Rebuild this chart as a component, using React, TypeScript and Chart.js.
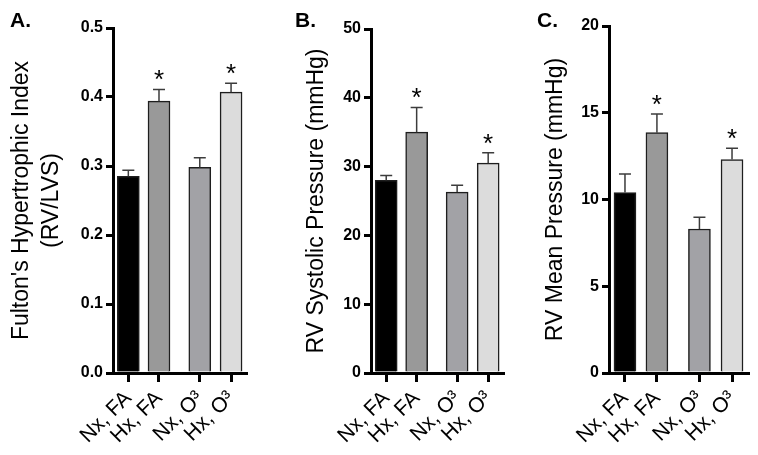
import React, { useEffect, useRef } from "react";
import { Chart, registerables } from "chart.js";

Chart.register(...registerables);

const FONT = "'Liberation Sans', Arial, Helvetica, sans-serif";
Chart.defaults.font.family = FONT;
Chart.defaults.color = "#000";

// ---- data ----
const categories = ["Nx, FA", "Hx, FA", "Nx, O³", "Hx, O³"];
const categoryPositions = [0, 1, 2.33, 3.35];
const barColors = ["#000000", "#999999", "#a2a2a6", "#dcdcdc"];
const significant = [false, true, false, true];

const fultonMeans = [0.285, 0.394, 0.298, 0.407];
const fultonErrors = [0.009, 0.017, 0.014, 0.013];
const fultonTicks = [0, 0.1, 0.2, 0.3, 0.4, 0.5];

const systolicMeans = [28.0, 35.0, 26.3, 30.5];
const systolicErrors = [0.7, 3.6, 1.0, 1.5];
const systolicTicks = [0, 10, 20, 30, 40, 50];

const meanPressureMeans = [10.4, 13.85, 8.3, 12.3];
const meanPressureErrors = [1.07, 1.08, 0.67, 0.66];
const meanPressureTicks = [0, 5, 10, 15, 20];

type Panel = {
  letter: string;
  title: string | string[];
  means: number[];
  errors: number[];
  ticks: number[];
  decimals: number;
  left: number;
  width: number;
  axisWidth: number;
  topPad: number;
  rightPad: number;
  titlePad: number;
  letterX: number;
};

const panels: Panel[] = [
  {
    letter: "A.",
    title: ["Fulton's Hypertrophic Index", "(RV/LVS)"],
    means: fultonMeans,
    errors: fultonErrors,
    ticks: fultonTicks,
    decimals: 1,
    left: 0,
    width: 253,
    axisWidth: 113,
    topPad: 28,
    rightPad: 1,
    titlePad: 7,
    letterX: 10,
  },
  {
    letter: "B.",
    title: "RV Systolic Pressure (mmHg)",
    means: systolicMeans,
    errors: systolicErrors,
    ticks: systolicTicks,
    decimals: 0,
    left: 253,
    width: 257,
    axisWidth: 118,
    topPad: 29,
    rightPad: 0,
    titlePad: 49,
    letterX: 42,
  },
  {
    letter: "C.",
    title: "RV Mean Pressure (mmHg)",
    means: meanPressureMeans,
    errors: meanPressureErrors,
    ticks: meanPressureTicks,
    decimals: 0,
    left: 510,
    width: 248,
    axisWidth: 99,
    topPad: 26,
    rightPad: 10,
    titlePad: 31,
    letterX: 27,
  },
];

const HEIGHT = 455;
const X_AXIS_HEIGHT = 82;

function makeOverlay(p: Panel) {
  return {
    id: "errorBarsAndMarks" + p.letter.replace(".", ""),
    afterDatasetsDraw(chart: any) {
      const { ctx } = chart;
      const xs = chart.scales.x;
      const ys = chart.scales.y;
      ctx.save();
      p.means.forEach((m, i) => {
        const x = xs.getPixelForValue(categoryPositions[i]);
        const yTop = ys.getPixelForValue(m);
        const yErr = ys.getPixelForValue(m + p.errors[i]);
        ctx.strokeStyle = "#3c3c3c";
        ctx.lineWidth = 1.5;
        ctx.beginPath();
        ctx.moveTo(x, yTop);
        ctx.lineTo(x, yErr);
        ctx.moveTo(x - 6, yErr);
        ctx.lineTo(x + 6, yErr);
        ctx.stroke();
        if (significant[i]) {
          ctx.fillStyle = "#000";
          ctx.font = `26px ${FONT}`;
          ctx.textAlign = "center";
          ctx.textBaseline = "alphabetic";
          ctx.fillText("*", x, yErr - 1);
        }
      });
      ctx.fillStyle = "#000";
      ctx.font = `bold 21px ${FONT}`;
      ctx.textAlign = "left";
      ctx.textBaseline = "alphabetic";
      ctx.fillText(p.letter, p.letterX, 27);
      ctx.restore();
    },
  };
}

function PanelChart({ p }: { p: Panel }) {
  const ref = useRef<HTMLCanvasElement | null>(null);
  useEffect(() => {
    if (!ref.current) return;
    const chart = new Chart(ref.current, {
      type: "bar",
      data: {
        datasets: [
          {
            data: p.means.map((m, i) => ({ x: categoryPositions[i], y: m })),
            backgroundColor: barColors,
            borderColor: "#1e1e1e",
            borderWidth: 1.5,
            barThickness: 22,
          },
        ],
      },
      options: {
        animation: false,
        responsive: false,
        maintainAspectRatio: false,
        layout: { padding: { top: p.topPad, right: p.rightPad, left: 0, bottom: 0 } },
        plugins: { legend: { display: false }, tooltip: { enabled: false } },
        scales: {
          x: {
            type: "linear",
            min: -0.5,
            max: 3.85,
            offset: false,
            z: 1,
            afterBuildTicks: (s: any) => {
              s.ticks = categoryPositions.map((v) => ({ value: v }));
            },
            afterFit: (s: any) => {
              s.height = X_AXIS_HEIGHT;
            },
            ticks: {
              autoSkip: false,
              minRotation: 45,
              maxRotation: 45,
              padding: 4,
              color: "#000",
              font: { family: FONT, size: 21, weight: "normal" },
              callback: (_v: any, i: number) => categories[i],
            },
            grid: {
              display: true,
              offset: false,
              drawOnChartArea: false,
              drawTicks: true,
              tickLength: 9,
              tickWidth: 3,
              tickColor: "#000",
              lineWidth: 3,
              color: "#000",
            },
            border: { display: true, width: 3, color: "#000" },
          },
          y: {
            type: "linear",
            min: p.ticks[0],
            max: p.ticks[p.ticks.length - 1],
            z: 1,
            afterBuildTicks: (s: any) => {
              s.ticks = p.ticks.map((v) => ({ value: v }));
            },
            afterFit: (s: any) => {
              s.width = p.axisWidth;
            },
            ticks: {
              padding: 3,
              color: "#000",
              font: { family: FONT, size: 16, weight: "bold" },
              callback: (v: any) => Number(v).toFixed(p.decimals),
            },
            grid: {
              display: true,
              drawOnChartArea: false,
              drawTicks: true,
              tickLength: 7,
              tickWidth: 3,
              tickColor: "#000",
              lineWidth: 3,
              color: "#000",
            },
            border: { display: true, width: 3, color: "#000" },
            title: {
              display: true,
              text: p.title,
              color: "#000",
              font: { family: FONT, size: 23, lineHeight: 1.3 },
              padding: { top: p.titlePad, bottom: 0 },
            },
          },
        },
      },
      plugins: [makeOverlay(p)],
    } as any);
    return () => chart.destroy();
  }, [p]);
  return (
    <canvas
      ref={ref}
      width={p.width}
      height={HEIGHT}
      style={{ position: "absolute", left: p.left, top: 0, width: p.width, height: HEIGHT }}
    />
  );
}

export default function App() {
  return (
    <div
      style={{
        position: "absolute",
        left: 0,
        top: 0,
        width: 758,
        height: HEIGHT,
        background: "#fff",
        overflow: "hidden",
      }}
    >
      {panels.map((p) => (
        <PanelChart key={p.letter} p={p} />
      ))}
    </div>
  );
}
